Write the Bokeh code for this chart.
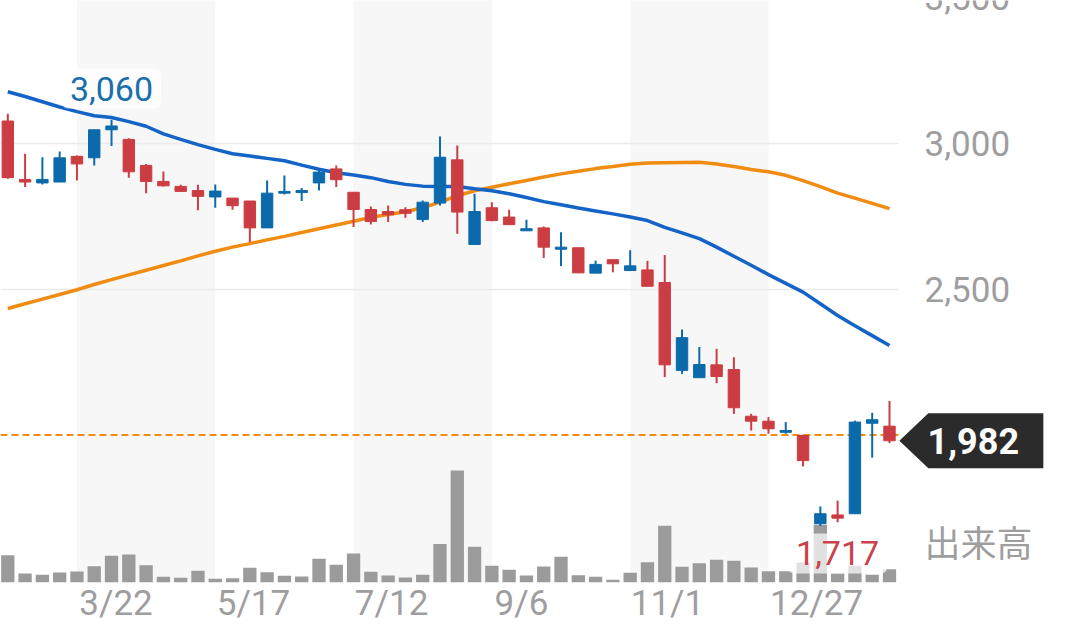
from bokeh.plotting import figure
from bokeh.models import (Range1d, FixedTicker, Label, PolyAnnotation, ColumnDataSource)
from bokeh.core.properties import value
from bokeh.embed import file_html
from bokeh.resources import INLINE

# ---------------- data (weekly candles) ----------------
weeks = list(range(52))
opens = [3077, 2877, 2865, 2868, 2956, 2951, 3047, 3014, 2925, 2870,
         2853, 2839, 2817, 2813, 2803, 2711, 2830, 2832, 2865, 2913,
         2833, 2774, 2767, 2773, 2740, 2796, 2944, 2654, 2780, 2748,
         2701, 2711, 2638, 2643, 2556, 2602, 2565, 2567, 2524, 2223,
         2198, 2242, 2226, 2066, 2049, 2011, 2000, 1698, 1728, 1732,
         2042, 2032]
highs = [3102, 2965, 2953, 2973, 2959, 3047, 3081, 3018, 2930, 2904,
         2859, 2859, 2860, 2813, 2803, 2873, 2890, 2848, 2910, 2925,
         2833, 2784, 2788, 2782, 2805, 3024, 2993, 2828, 2799, 2773,
         2739, 2716, 2696, 2643, 2599, 2602, 2634, 2598, 2618, 2363,
         2303, 2297, 2268, 2074, 2063, 2046, 2003, 1757, 1777, 2051,
         2078, 2118]
lows = [2879, 2851, 2860, 2868, 2873, 2925, 2991, 2883, 2830, 2853,
        2836, 2771, 2780, 2773, 2662, 2711, 2825, 2803, 2839, 2851,
        2714, 2723, 2731, 2746, 2731, 2788, 2691, 2653, 2734, 2721,
        2700, 2608, 2580, 2556, 2556, 2559, 2563, 2511, 2200, 2211,
        2197, 2179, 2074, 2017, 2006, 2006, 1894, 1690, 1703, 1732,
        1924, 1974]
closes = [2883, 2868, 2877, 2951, 2930, 3047, 3060, 2903, 2870, 2855,
          2836, 2819, 2837, 2787, 2711, 2830, 2836, 2839, 2902, 2876,
          2774, 2733, 2756, 2761, 2799, 2953, 2765, 2767, 2736, 2722,
          2708, 2645, 2645, 2557, 2586, 2588, 2581, 2511, 2242, 2335,
          2243, 2202, 2095, 2049, 2023, 2017, 1914, 1732, 1717, 2046,
          2054, 1982]
ma13 = [3177, 3161, 3143, 3125, 3109, 3095, 3089, 3075, 3059, 3033,
        3014, 2996, 2980, 2965, 2957, 2949, 2941, 2926, 2912, 2900,
        2892, 2883, 2870, 2860, 2854, 2853, 2853, 2845, 2838, 2828,
        2815, 2801, 2790, 2779, 2769, 2759, 2748, 2736, 2713, 2694,
        2674, 2645, 2614, 2583, 2551, 2521, 2491, 2451, 2411, 2376,
        2342, 2308]
ma26 = [2435, 2451, 2467, 2483, 2499, 2517, 2534, 2550, 2566, 2582,
        2598, 2615, 2631, 2645, 2657, 2670, 2682, 2695, 2708, 2721,
        2734, 2747, 2757, 2766, 2780, 2799, 2821, 2838, 2850, 2862,
        2873, 2885, 2896, 2905, 2914, 2921, 2929, 2933, 2934, 2935,
        2936, 2930, 2921, 2911, 2903, 2891, 2873, 2852, 2830, 2813,
        2795, 2777]
volume = [273, 90, 77, 100, 110, 163, 267, 280, 173, 57,
          47, 117, 37, 43, 147, 103, 67, 60, 237, 177,
          290, 107, 70, 50, 77, 385, 1120, 357, 167, 127,
          70, 160, 257, 73, 57, 27, 97, 203, 567, 157,
          193, 227, 217, 150, 113, 113, 200, 577, 90, 167,
          77, 133]
date_labels = ["3/22", "5/17", "7/12", "9/6", "11/1", "12/27"]
date_label_weeks = [4, 12, 20, 28, 36, 44]
price_ticks = [2500, 3000, 3500]
ref_price = 2002
volume_title = "出来高"

# ---------------- styling / layout ----------------
RED = "#cc3d43"
BLUE = "#0b6aab"
MA13_C = "#1463c6"
MA26_C = "#f08c12"
GRAY_TXT = "#9e9e9e"
FONT = "Roboto"

W, H = 1064, 626
FRAME_H = 582
PXW = 17.288                       # pixels per week
X_LO = -7.3 / PXW                  # week 0 centred 7.3px from the left edge
X_HI = X_LO + W / PXW
Y_LO, Y_HI = 1496.6, 3489.7
PXP = (Y_HI - Y_LO) / FRAME_H      # price per pixel
label_offsets = [2.26, 2.21, 2.2, 1.71, 2.16, 2.78]   # label centre offset (weeks)


def sx(px):            # horizontal pixel -> week units
    return X_LO + px / PXW


def sy(py):            # vertical pixel (from top) -> price units
    return Y_HI - py * PXP


PLOT_R = sx(898)       # right end of the price area

p = figure(width=W, height=H, output_backend="svg", toolbar_location=None,
           x_range=Range1d(X_LO, X_HI), y_range=Range1d(Y_LO, Y_HI),
           min_border_left=0, min_border_top=0, min_border_right=0,
           min_border_bottom=H - FRAME_H)
p.outline_line_color = None
p.grid.visible = False
p.yaxis.visible = False
p.background_fill_color = "white"
p.border_fill_color = "white"
p.extra_y_ranges = {"vol": Range1d(0, 10 * FRAME_H)}

# shaded bands (every other 8-week block)
band_l = date_label_weeks[0::2]
band_r = date_label_weeks[1::2]
p.quad(left=band_l, right=band_r, bottom=Y_LO, top=Y_HI + 500,
       fill_color="#f7f7f7", line_color=None)

# gridlines
p.segment(x0=[X_LO] * len(price_ticks), x1=[PLOT_R] * len(price_ticks),
          y0=price_ticks, y1=price_ticks, line_color="#ebebeb", line_width=1.5)

# volume
p.vbar(x=weeks, top=volume, width=0.77, y_range_name="vol",
       fill_color="#9b9b9b", line_color=None)

# moving averages
p.line(weeks, ma26, line_color=MA26_C, line_width=3.5)
p.line(weeks, ma13, line_color=MA13_C, line_width=3.5)

# reference dashed line
p.segment(x0=[X_LO], x1=[PLOT_R], y0=[ref_price], y1=[ref_price],
          line_color=MA26_C, line_width=2, line_dash="7 4")

# candles
colors = [BLUE if c >= o else RED for o, c in zip(opens, closes)]
src = ColumnDataSource(dict(x=weeks, o=opens, h=highs, l=lows, c=closes,
                            top=[max(o, c) for o, c in zip(opens, closes)],
                            bot=[min(o, c) for o, c in zip(opens, closes)],
                            col=colors))
p.segment(x0="x", x1="x", y0="l", y1="h", line_color="col", line_width=2, source=src)
p.vbar(x="x", top="top", bottom="bot", width=0.66, fill_color="col",
       line_color="col", line_width=1, source=src)

# price scale labels (right side)
p.text(x=[sx(924)] * len(price_ticks), y=price_ticks,
       text=[f"{t:,}" for t in price_ticks], text_align="left",
       text_baseline="middle", text_font=value(FONT),
       text_font_size=value("35px"), text_color=GRAY_TXT)

# date axis
xt = [round(w + d, 2) for w, d in zip(date_label_weeks, label_offsets)]
p.xaxis.ticker = FixedTicker(ticks=xt)
p.xaxis.major_label_overrides = {k: t for k, t in zip(xt, date_labels)}
ax = p.xaxis[0]
ax.axis_line_color = None
ax.major_tick_line_color = None
ax.minor_tick_line_color = None
ax.major_tick_out = 0
ax.major_tick_in = 0
ax.major_label_standoff = 0
ax.major_label_text_color = GRAY_TXT
ax.major_label_text_font = FONT
ax.major_label_text_font_size = "35px"

# high / low close labels
imax = closes.index(max(closes))
imin = closes.index(min(closes))
p.add_layout(Label(x=imax, y=max(closes) + 128, text=f"{max(closes):,}",
                   text_align="center", text_baseline="middle",
                   text_font=FONT, text_font_size="34px", text_color="#1a6fac",
                   background_fill_color="white", background_fill_alpha=0.7,
                   padding=8, border_radius=6))
p.add_layout(Label(x=imin, y=min(closes) - 121, text=f"{min(closes):,}",
                   text_align="center", text_baseline="middle",
                   text_font=FONT, text_font_size="34px", text_color="#c9414a",
                   background_fill_color="white", background_fill_alpha=0.7,
                   padding=8, border_radius=6))

# last price tag
last = closes[-1]
tip_x = weeks[-1] + 0.57
rect_l = tip_x + 29 / PXW
rect_r = tip_x + 144 / PXW
half = 27.5 * PXP
p.add_layout(PolyAnnotation(xs=[tip_x, rect_l, rect_r, rect_r, rect_l],
                            ys=[last, last + half, last + half, last - half, last - half],
                            fill_color="#2b2b2b", fill_alpha=1, line_color=None))
p.add_layout(Label(x=tip_x + 74 / PXW, y=last, text=f"{last:,}",
                   text_align="center", text_baseline="middle",
                   text_font=FONT, text_font_size="36px", text_font_style="bold",
                   text_color="white"))

# volume title
p.add_layout(Label(x=sx(924), y=sy(540), text=volume_title,
                   text_align="left", text_baseline="middle",
                   text_font="Noto Sans CJK JP", text_font_size="36px",
                   text_color=GRAY_TXT))

open("out.html", "w").write(file_html(p, INLINE))
